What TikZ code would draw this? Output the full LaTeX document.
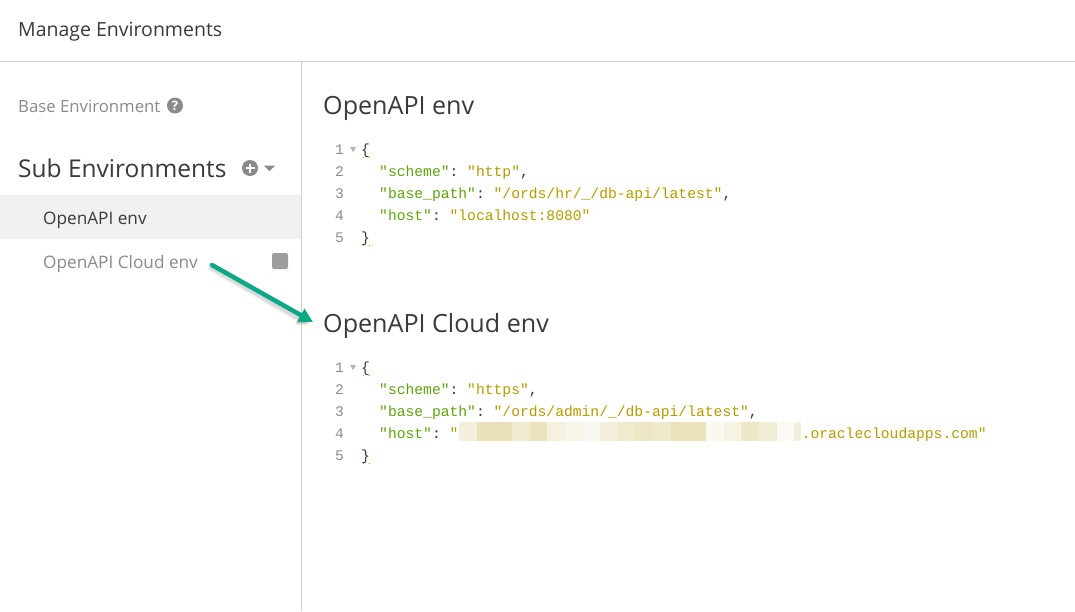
\documentclass[tikz,border=0pt]{standalone}
\usepackage{fontspec}
\usetikzlibrary{arrows.meta}
\setmainfont{Open Sans}
\setmonofont{Liberation Mono}
\definecolor{keygreen}{HTML}{5FA30F}
\definecolor{strgold}{HTML}{B39C00}
\definecolor{numgray}{HTML}{8C8C8C}
\definecolor{uigray}{HTML}{8A8A8A}
\definecolor{uidark}{HTML}{3A3A3A}
\definecolor{linegray}{HTML}{CFCFCF}
\definecolor{rowgray}{HTML}{F1F1F1}
\definecolor{arrowteal}{HTML}{0BA888}
\definecolor{blur}{HTML}{DDD08F}
\newcommand{\jkey}[1]{\textcolor{keygreen}{#1}}
\newcommand{\jstr}[1]{\textcolor{strgold}{#1}}
\begin{document}
\begin{tikzpicture}[x=1pt, y=-1pt,
	ui/.style = {inner sep=0pt, anchor=base west, text=uidark},
	side/.style = {ui, font=\fontsize{16.75}{20}\selectfont, text=uigray},
	rowname/.style = {ui, font=\fontsize{17.2}{20}\selectfont},
	heading/.style = {ui, font=\fontsize{25.1}{28}\selectfont},
	lnum/.style = {inner sep=0pt, anchor=base west, font=\ttfamily\fontsize{14.67}{16}\selectfont, text=numgray},
	code/.style = {inner sep=0pt, anchor=base west, font=\ttfamily\fontsize{14.67}{16}\selectfont, text=uidark},
	matchdots/.style = {strgold, line width=.9pt, dash pattern=on 1pt off 5pt}]
	\useasboundingbox (0,0) rectangle (1075,611);
	\fill[white] (0,0) rectangle (1075,611);
	% panes
	\fill[rowgray] (0,195) rectangle (301,239);
	\coordinate (topl) at (0,61.5);
	\coordinate (topr) at (1075,61.5);
	\coordinate (sidet) at (301.5,61.5);
	\coordinate (sideb) at (301.5,611);
	\draw[linegray, line width=1pt] (topl) -- (topr);
	\draw[linegray, line width=1pt] (sidet) -- (sideb);
	% left side
	\node[ui, font=\fontsize{19.5}{24}\selectfont] (title) at (18,36) {Manage Environments};
	\node[side] (base) at (18,112) {Base Environment};
	\node[circle, fill=uigray, minimum size=16pt, inner sep=0pt, text=white, font=\bfseries\fontsize{13}{13}\selectfont] (help) at (175,105.5) {?};
	\node[ui, font=\fontsize{24.5}{30}\selectfont] (sub) at (18,177) {Sub Environments};
	\node[circle, fill=uigray, minimum size=16pt, inner sep=0pt] (plus) at (250,168) {};
	\draw[white, line width=2.4pt] (245.5,168) -- (254.5,168) (250,163.5) -- (250,172.5);
	\fill[uigray] (264,165.5) -- (275,165.5) -- (269.5,171) -- cycle;
	\node[rowname] (env) at (43,224) {OpenAPI env};
	\node[side, font=\fontsize{17.2}{20}\selectfont] (cloud) at (43,268) {OpenAPI Cloud env};
	\node[fill=black!38, rounded corners=2pt, minimum size=16pt, inner sep=0pt] (stop) at (280,261) {};
	% first environment
	\node[heading] (h1) at (323,114) {OpenAPI env};
	\node[lnum] (a1) at (335,154.5) {1};
	\node[lnum] (a2) at (335,176.5) {2};
	\node[lnum] (a3) at (335,198.5) {3};
	\node[lnum] (a4) at (335,220.5) {4};
	\node[lnum] (a5) at (335,242.5) {5};
	\fill[black!30] (350,147) -- (356,147) -- (353,152) -- cycle;
	\node[code] (b1) at (361,154.5) {\{};
	\node[code] (b2) at (379,176.5) {\jkey{"scheme"}: \jstr{"http"},};
	\node[code] (b3) at (379,198.5) {\jkey{"base\_path"}: \jstr{"/ords/hr/\_/db-api/latest"},};
	\node[code] (b4) at (379,220.5) {\jkey{"host"}: \jstr{"localhost:8080"}};
	\node[code] (b5) at (361,242.5) {\}};
	\draw[matchdots] (363,157) -- (370,157);
	\draw[matchdots] (363,245) -- (370,245);
	% second environment
	\node[heading] (h2) at (323,332) {OpenAPI Cloud env};
	\node[lnum] (c1) at (335,372.5) {1};
	\node[lnum] (c2) at (335,394.5) {2};
	\node[lnum] (c3) at (335,416.5) {3};
	\node[lnum] (c4) at (335,438.5) {4};
	\node[lnum] (c5) at (335,460.5) {5};
	\fill[black!30] (350,365) -- (356,365) -- (353,370) -- cycle;
	\node[code] (d1) at (361,372.5) {\{};
	\node[code] (d2) at (379,394.5) {\jkey{"scheme"}: \jstr{"https"},};
	\node[code] (d3) at (379,416.5) {\jkey{"base\_path"}: \jstr{"/ords/admin/\_/db-api/latest"},};
	\node[code] (d4) at (379,438.5) {\jkey{"host"}: \jstr{"}};
	\node[code] (d5) at (361,460.5) {\}};
	\draw[matchdots] (363,375) -- (370,375);
	\draw[matchdots] (363,463) -- (370,463);
	% blurred part of the host
	\foreach \x/\w/\o in {459/18/30, 477/35/63, 512/18/43, 530/17/58, 547/18/28, 565/18/19, 583/17/12, 600/18/32, 618/17/43, 635/18/50, 653/18/44, 671/17/61, 688/18/60, 706/18/14, 724/17/25, 741/18/49, 759/18/37, 777/17/9, 794/7/32}
		\fill[blur, opacity=\o/100] (\x,422) rectangle ++(\w,19);
	\node[code] (d6) at (801.5,438.5) {\jstr{.oraclecloudapps.com"}};
	% arrow
	\coordinate (from) at (212,265);
	\coordinate (to) at (313,322);
	\coordinate (shfrom) at (211,267.5);
	\coordinate (shto) at (309,324.5);
	\foreach \w in {7,5,3}
		\draw[-{Triangle[length=12pt,width=13pt]}, black, opacity=.05, line width=\w pt, line cap=round] (shfrom) -- (shto);
	\draw[-{Triangle[length=14pt,width=14pt]}, arrowteal, line width=4.5pt, line cap=round] (from) -- (to);
\end{tikzpicture}
\end{document}
